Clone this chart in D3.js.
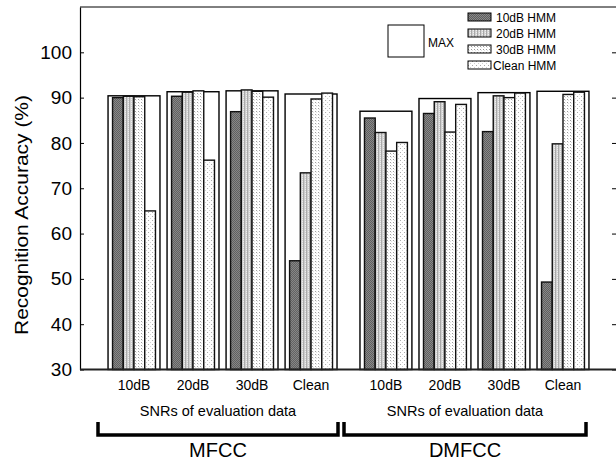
<!DOCTYPE html>
<html>
<head>
<meta charset="utf-8">
<script src="https://cdn.jsdelivr.net/npm/d3@7"></script>
<style>
    body { margin: 0; background: #fff; }
    text { font-family: "Liberation Sans", Arial, Helvetica, sans-serif; fill: #000; }
</style>
</head>
<body>
<svg id="svg" width="616" height="461"></svg>
<script>
// values (Recognition Accuracy %)
const features = ["MFCC", "DMFCC"];
const snrs = ["10dB", "20dB", "30dB", "Clean"];
const hmms = ["10dB HMM", "20dB HMM", "30dB HMM", "Clean HMM"];
// rows: evaluation SNR, columns: HMM
const mfccAcc = [
    [90.0, 90.3, 90.2, 65.0],
    [90.3, 91.2, 91.5, 76.2],
    [86.9, 91.7, 91.4, 90.1],
    [54.0, 73.4, 89.7, 91.0]
];
const mfccMax = [90.4, 91.3, 91.5, 90.8];
const dmfccAcc = [
    [85.5, 82.3, 78.2, 80.1],
    [86.5, 89.1, 82.4, 88.5],
    [82.5, 90.4, 90.0, 91.0],
    [49.3, 79.8, 90.7, 91.2]
];
const dmfccMax = [87.0, 89.8, 91.1, 91.4];
const yTicks = [30, 40, 50, 60, 70, 80, 90, 100];

const accByFeature = { MFCC: mfccAcc, DMFCC: dmfccAcc };
const maxByFeature = { MFCC: mfccMax, DMFCC: dmfccMax };

const svg = d3.select("#svg");
const plotLeft = 80, plotRight = 619, plotTop = 7, plotBottom = 369.5;

const y = d3.scaleLinear().domain([30, 110]).range([plotBottom, plotTop]);
const x0 = d3.scaleBand().domain(features).range([104.5, 592.5]).paddingInner(0.063);
const x1 = d3.scaleBand().domain(snrs).range([0, x0.bandwidth()]).paddingInner(0.12).paddingOuter(0.06);
const x2 = d3.scaleBand().domain(hmms).range([0, x1.bandwidth()]).paddingOuter(0.42);

// fill patterns
const defs = svg.append("defs");
function pattern(id, w, h, bg, dots) {
    const p = defs.append("pattern").attr("id", id)
        .attr("patternUnits", "userSpaceOnUse").attr("width", w).attr("height", h);
    p.append("rect").attr("width", w).attr("height", h).attr("fill", bg);
    dots.forEach(d => {
        p.append("rect").attr("x", d[0]).attr("y", d[1])
            .attr("width", d[2]).attr("height", d[3]).attr("fill", d[4]);
    });
}
pattern("p0", 2, 2, "#8a8a8a", [[0, 0, 1, 1, "#5e5e5e"], [1, 1, 1, 1, "#5e5e5e"]]);
pattern("p1", 3, 2, "#d2d2d2", [[0, 0, 1, 2, "#a8a8a8"], [2, 1, 1, 1, "#f0f0f0"]]);
pattern("p2", 3, 3, "#ffffff", [[0, 0, 1, 1, "#9a9a9a"], [1, 1, 1, 1, "#e0e0e0"]]);
pattern("p3", 4, 4, "#ffffff", [[0, 0, 1, 1, "#a8a8a8"], [2, 2, 1, 1, "#d0d0d0"]]);
const fills = hmms.map((h, i) => "url(#p" + i + ")");

// frame
svg.append("line").attr("x1", plotLeft).attr("x2", plotRight).attr("y1", plotTop).attr("y2", plotTop)
    .style("stroke", "black").style("stroke-width", 1);

// groups of bars
features.forEach(f => {
    const g = svg.append("g").attr("transform", "translate(" + x0(f) + ",0)");
    snrs.forEach((s, si) => {
        const sg = g.append("g").attr("transform", "translate(" + x1(s) + ",0)");
        sg.append("rect")
            .attr("x", 0).attr("width", x1.bandwidth())
            .attr("y", y(maxByFeature[f][si])).attr("height", plotBottom - y(maxByFeature[f][si]))
            .style("fill", "white").style("stroke", "black").style("stroke-width", 1.4);
        sg.selectAll("rect.bar").data(accByFeature[f][si]).join("rect")
            .attr("class", "bar")
            .attr("x", (d, i) => x2(hmms[i])).attr("width", x2.bandwidth())
            .attr("y", d => y(d)).attr("height", d => plotBottom - y(d))
            .style("fill", (d, i) => fills[i]).style("stroke", "#111").style("stroke-width", 1.4);
        svg.append("text")
            .attr("x", x0(f) + x1(s) + x1.bandwidth() / 2).attr("y", 390)
            .attr("text-anchor", "middle").style("font-size", "14px").text(s);
    });
});

// axes (ticks point into the plot)
svg.append("g").attr("transform", "translate(" + plotLeft + ",0)")
    .call(d3.axisLeft(y).tickValues(yTicks).tickSize(-4).tickSizeOuter(0).tickPadding(8))
    .call(a => a.selectAll("text").style("font-size", "19px"))
    .call(a => a.select(".domain").style("stroke-width", 1.2));
svg.append("g").attr("transform", "translate(" + plotRight + ",0)")
    .call(d3.axisLeft(y).tickValues(yTicks).tickSize(7).tickSizeOuter(0).tickFormat(""));
svg.append("line").attr("x1", plotLeft).attr("x2", plotRight).attr("y1", plotBottom).attr("y2", plotBottom)
    .style("stroke", "#222").style("stroke-width", 2);

svg.append("text")
    .attr("transform", "translate(28,215)rotate(-90)")
    .attr("text-anchor", "middle").style("font-size", "18px")
    .attr("textLength", 240).attr("lengthAdjust", "spacingAndGlyphs")
    .text("Recognition Accuracy (%)");

// brackets and feature labels
const brackets = { MFCC: [98, 338], DMFCC: [344, 586] };
features.forEach(f => {
    const [bx0, bx1] = brackets[f];
    const cx = (bx0 + bx1) / 2;
    svg.append("text").attr("x", cx).attr("y", 416)
        .attr("text-anchor", "middle").style("font-size", "14.5px")
        .text("SNRs of evaluation data");
    svg.append("path")
        .attr("d", "M" + bx0 + ",422V435H" + bx1 + "V422")
        .style("fill", "none").style("stroke", "black").style("stroke-width", 3.5);
    svg.append("text").attr("x", cx).attr("y", 457)
        .attr("text-anchor", "middle").style("font-size", "20px").text(f);
});

// legend
svg.append("rect").attr("x", 388).attr("y", 25).attr("width", 36).attr("height", 32)
    .style("fill", "white").style("stroke", "black").style("stroke-width", 1);
svg.append("text").attr("x", 428).attr("y", 47).style("font-size", "12px").text("MAX");
const leg = svg.append("g").attr("transform", "translate(468,13)");
hmms.forEach((h, i) => {
    leg.append("rect").attr("x", 0).attr("y", i * 16).attr("width", 23).attr("height", 8)
        .style("fill", fills[i]).style("stroke", "black").style("stroke-width", 1);
    leg.append("text").attr("x", i === 3 ? 25 : 28).attr("y", i * 16 + 9)
        .style("font-size", "12px").text(h);
});
</script>
</body>
</html>
